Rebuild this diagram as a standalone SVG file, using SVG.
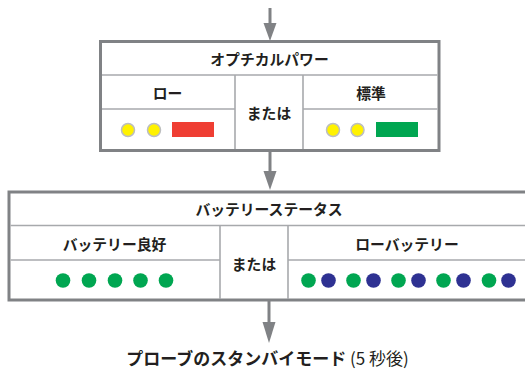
<svg xmlns="http://www.w3.org/2000/svg" width="525" height="369" viewBox="0 0 525 369">
<style>
.outer{fill:#fff;stroke:#808285;stroke-width:3}
.inner{stroke:#a7a9ac;stroke-width:1.6;fill:none}
.conn{stroke:#808285;stroke-width:3;fill:none}
.head{fill:#808285}
.t{font-family:"Noto Sans CJK JP","Noto Sans",sans-serif;font-weight:bold;font-size:14.8px;fill:#231f20;text-anchor:middle;dominant-baseline:central}
.y{fill:#fff200;stroke:#bcbec0;stroke-width:1.5}
.g{fill:#00a651}
.b{fill:#2e3192}
</style>
<g id="connectors">
  <line class="conn" x1="270" y1="8" x2="270" y2="24"/>
  <polygon class="head" points="263.5,23 276.5,23 270,41"/>
  <line class="conn" x1="270" y1="151" x2="270" y2="172"/>
  <polygon class="head" points="263.5,171 276.5,171 270,190"/>
  <line class="conn" x1="269" y1="301" x2="269" y2="323"/>
  <polygon class="head" points="262.5,322 275.5,322 269,343"/>
</g>
<g id="optical-power">
  <rect class="outer" x="100.5" y="41.5" width="338.5" height="109"/>
  <line class="inner" x1="102" y1="75" x2="437.5" y2="75"/>
  <line class="inner" x1="235" y1="75" x2="235" y2="149"/>
  <line class="inner" x1="303" y1="75" x2="303" y2="149"/>
  <line class="inner" x1="102" y1="109" x2="235" y2="109"/>
  <line class="inner" x1="303" y1="109" x2="437.5" y2="109"/>
  <text class="t" x="269.5" y="58">オプチカルパワー</text>
  <text class="t" x="167.5" y="92">ロー</text>
  <text class="t" x="269" y="112.5">または</text>
  <text class="t" x="371" y="92">標準</text>
  <circle class="y" cx="128" cy="130" r="6.5"/>
  <circle class="y" cx="154" cy="130" r="6.5"/>
  <rect x="172" y="122" width="42" height="15" fill="#ef3e33"/>
  <circle class="y" cx="333" cy="130" r="6.5"/>
  <circle class="y" cx="357.5" cy="130" r="6.5"/>
  <rect x="376" y="122" width="42" height="15" fill="#00a651"/>
</g>
<g id="battery-status">
  <rect class="outer" x="9" y="192" width="522" height="108"/>
  <line class="inner" x1="10.5" y1="225.5" x2="531" y2="225.5"/>
  <line class="inner" x1="220" y1="225.5" x2="220" y2="299"/>
  <line class="inner" x1="288" y1="225.5" x2="288" y2="299"/>
  <line class="inner" x1="10.5" y1="260" x2="220" y2="260"/>
  <line class="inner" x1="288" y1="260" x2="531" y2="260"/>
  <text class="t" x="269" y="208.5">バッテリーステータス</text>
  <text class="t" x="114.5" y="243">バッテリー良好</text>
  <text class="t" x="254" y="263">または</text>
  <text class="t" x="407" y="243">ローバッテリー</text>
  <circle class="g" cx="63" cy="280.5" r="7.3"/>
  <circle class="g" cx="89" cy="280.5" r="7.3"/>
  <circle class="g" cx="115" cy="280.5" r="7.3"/>
  <circle class="g" cx="140.5" cy="280.5" r="7.3"/>
  <circle class="g" cx="166" cy="280.5" r="7.3"/>
  <circle class="g" cx="308.5" cy="280.5" r="7.3"/>
  <circle class="b" cx="328.5" cy="280.5" r="7.3"/>
  <circle class="g" cx="353.5" cy="280.5" r="7.3"/>
  <circle class="b" cx="373.5" cy="280.5" r="7.3"/>
  <circle class="g" cx="398.5" cy="280.5" r="7.3"/>
  <circle class="b" cx="418.5" cy="280.5" r="7.3"/>
  <circle class="g" cx="443.5" cy="280.5" r="7.3"/>
  <circle class="b" cx="463.5" cy="280.5" r="7.3"/>
  <circle class="g" cx="489" cy="280.5" r="7.3"/>
  <circle class="b" cx="508.5" cy="280.5" r="7.3"/>
</g>
<g id="standby">
  <text x="267.5" y="357" style="font-family:'Noto Sans CJK JP','Noto Sans',sans-serif;font-size:17px;fill:#231f20;text-anchor:middle;dominant-baseline:central"><tspan font-weight="bold">プローブのスタンバイモード</tspan><tspan> (5 秒後)</tspan></text>
</g>
</svg>
